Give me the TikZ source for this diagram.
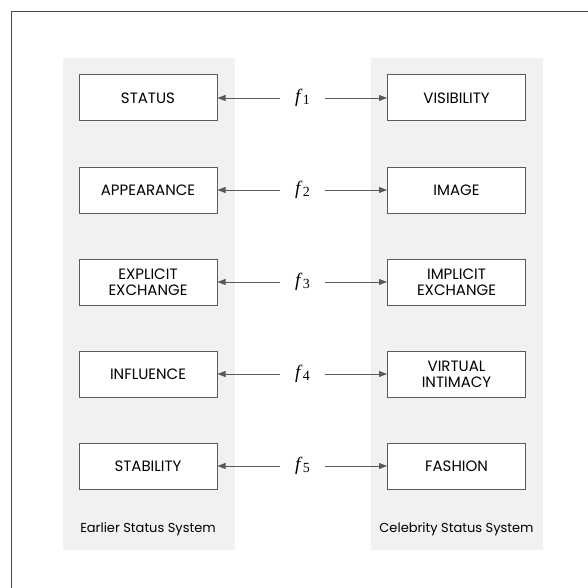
\documentclass[tikz,border=0pt]{standalone}
\usepackage{fontspec}
\setmainfont{Poppins}
\newfontfamily\fserif{Liberation Serif}
\usetikzlibrary{arrows.meta}
\definecolor{panelgray}{HTML}{F1F1F1}
\definecolor{edgegray}{HTML}{5A5A5A}
\definecolor{framegray}{HTML}{4A4A4A}
\tikzset{
  box/.style={draw=edgegray, line width=1pt, fill=white, minimum width=138pt, minimum height=46pt, inner sep=0pt, align=center, font=\fontsize{15}{16}\selectfont, text=black},
  flab/.style={minimum width=45pt, inner sep=0pt, font=\fserif\fontsize{19}{19}\selectfont},
  arr/.style={draw=edgegray, line width=0.9pt, -{Triangle[length=8pt,width=6pt]}},
  syslab/.style={font=\fontsize{13}{15}\selectfont, text=black, inner sep=0pt}
}
\newcommand{\fsub}[1]{\textit{f}\kern0.5pt\raisebox{-2pt}{\fontsize{14}{14}\selectfont #1}}
\begin{document}
\begin{tikzpicture}[x=1pt,y=-1pt]
\useasboundingbox (0,0) rectangle (588,588);
\fill[white] (0,0) rectangle (588,588);
% frame (cut off at right and bottom)
\draw[framegray, line width=1pt] (588,12) -- (11,12) -- (11,588);
% panels
\fill[panelgray] (63,58) rectangle (235,550);
\fill[panelgray] (371,58) rectangle (543,550);
% left boxes
\node[box] (L1) at (148,98) {STATUS};
\node[box] (L2) at (148,190) {APPEARANCE};
\node[box] (L3) at (148,282) {EXPLICIT\\EXCHANGE};
\node[box] (L4) at (148,374) {INFLUENCE};
\node[box] (L5) at (148,466) {STABILITY};
% right boxes
\node[box] (R1) at (456.5,98) {VISIBILITY};
\node[box] (R2) at (456.5,190) {IMAGE};
\node[box] (R3) at (456.5,282) {IMPLICIT\\EXCHANGE};
\node[box] (R4) at (456.5,374) {VIRTUAL\\INTIMACY};
\node[box] (R5) at (456.5,466) {FASHION};
% f labels
\node[flab] (F1) at (302.5,98) {\fsub{1}};
\node[flab] (F2) at (302.5,190) {\fsub{2}};
\node[flab] (F3) at (302.5,282) {\fsub{3}};
\node[flab] (F4) at (302.5,374) {\fsub{4}};
\node[flab] (F5) at (302.5,466) {\fsub{5}};
% arrows
\foreach \i in {1,...,5}{
  \draw[arr] (F\i.west) -- (L\i.east);
  \draw[arr] (F\i.east) -- (R\i.west);
}
% system labels
\node[syslab] (EL) at (148,529) {Earlier Status System};
\node[syslab] (CL) at (456.5,529) {Celebrity Status System};
\end{tikzpicture}
\end{document}
